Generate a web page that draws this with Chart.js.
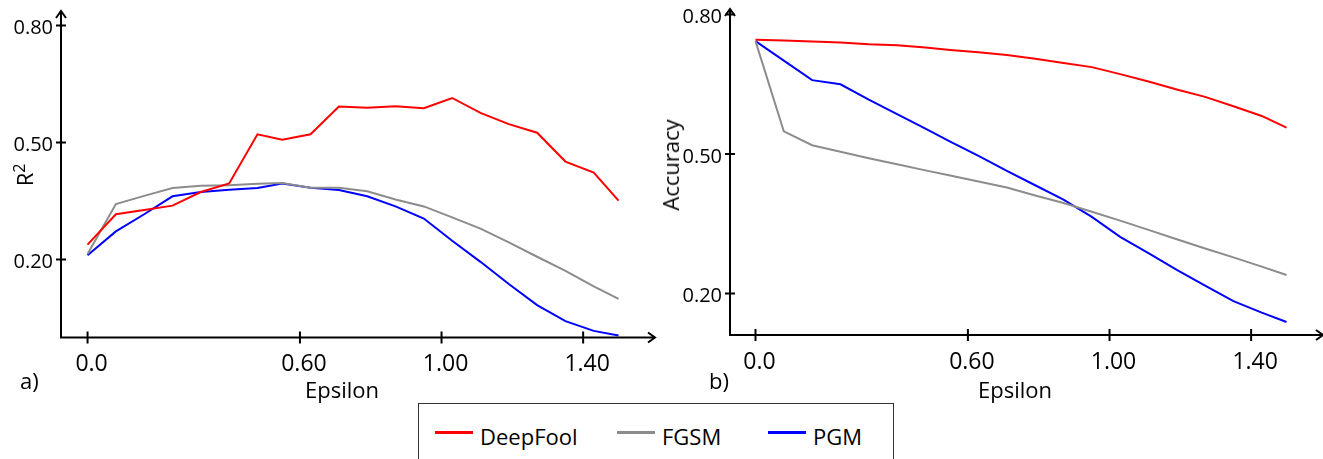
<!DOCTYPE html>
<html>
<head>
<meta charset="utf-8">
<script src="https://cdn.jsdelivr.net/npm/chart.js@4.4.0/dist/chart.umd.min.js"></script>
<style>
  body { margin: 0; background: #fff; width: 1323px; height: 459px; overflow: hidden; position: relative;
         font-family: "Open Sans", sans-serif; color: #000; }
  canvas { position: absolute; top: 0; }
  #c1 { left: 0; }
  #c2 { left: 660px; }
  .lbl { position: absolute; font-size: 22px; line-height: 22px; white-space: nowrap; }
  .mid { transform: translateX(-50%); }
  .rot { transform: translate(-50%, -50%) rotate(-90deg); }
  .rot sup { font-size: 16px; line-height: 0; }
  #legend { position: absolute; left: 418px; top: 403px; width: 474px; height: 80px; border: 1px solid #333; }
  .sw { position: absolute; width: 38px; height: 3px; }
</style>
</head>
<body>
<canvas id="c1" width="660" height="400"></canvas>
<canvas id="c2" width="663" height="400"></canvas>

<div class="lbl" style="left:20px; top:369px;">a)</div>
<div class="lbl" style="left:709px; top:369px;">b)</div>
<div class="lbl mid" style="left:342px; top:378px;">Epsilon</div>
<div class="lbl mid" style="left:1015px; top:378px;">Epsilon</div>
<div class="lbl rot" style="left:24px; top:175px;">R<sup>2</sup></div>
<div class="lbl rot" style="left:670px; top:165px;">Accuracy</div>

<div id="legend"></div>
<div id="legendItems"></div>

<script>
// epsilon values (x)
var eps = [0, 0.08, 0.16, 0.24, 0.32, 0.40, 0.48, 0.55, 0.63, 0.71,
           0.79, 0.87, 0.95, 1.03, 1.11, 1.19, 1.27, 1.35, 1.43, 1.50];

// a) R^2
var r2DeepFool = [0.238, 0.316, 0.327, 0.338, 0.373, 0.395, 0.521, 0.507, 0.521, 0.592,
                  0.589, 0.593, 0.588, 0.614, 0.576, 0.547, 0.525, 0.451, 0.423, 0.351];
var r2Fgsm     = [0.214, 0.342, 0.363, 0.383, 0.389, 0.390, 0.394, 0.396, 0.384, 0.384,
                  0.375, 0.354, 0.336, 0.308, 0.279, 0.244, 0.207, 0.171, 0.131, 0.099];
var r2Pgm      = [0.211, 0.272, 0.316, 0.362, 0.373, 0.379, 0.383, 0.395, 0.384, 0.378,
                  0.362, 0.336, 0.305, 0.248, 0.194, 0.137, 0.083, 0.042, 0.017, 0.005];

// b) Accuracy
var accDeepFool = [0.746, 0.744, 0.742, 0.740, 0.736, 0.734, 0.729, 0.724, 0.719, 0.713,
                   0.705, 0.696, 0.687, 0.672, 0.656, 0.639, 0.623, 0.603, 0.582, 0.557];
var accFgsm     = [0.743, 0.549, 0.519, 0.505, 0.491, 0.478, 0.465, 0.454, 0.441, 0.428,
                   0.411, 0.395, 0.376, 0.357, 0.337, 0.317, 0.297, 0.278, 0.258, 0.240];
var accPgm      = [0.743, 0.701, 0.659, 0.650, 0.617, 0.586, 0.555, 0.527, 0.496, 0.464,
                   0.433, 0.402, 0.365, 0.322, 0.287, 0.251, 0.217, 0.184, 0.159, 0.139];

var xTicks = [0, 0.6, 1.0, 1.4];
var xTickLabels = ["0.0", "0.60", "1.00", "1.40"];
var yTicks = [0.2, 0.5, 0.8];
var yTickLabels = ["0.20", "0.50", "0.80"];

var seriesNames = ["DeepFool", "FGSM", "PGM"];
var seriesColors = ["#ff0000", "#8c8c8c", "#0000ff"];

// axis lines with arrows and crossing tick marks
var axisArrows = {
    id: "axisArrows",
    beforeDatasetsDraw: function (chart) {
        var ctx = chart.ctx, a = chart.chartArea;
        var x = chart.scales.x, y = chart.scales.y;
        ctx.save();
        ctx.strokeStyle = "#000";
        ctx.lineWidth = 2;
        ctx.beginPath();
        ctx.moveTo(a.left, a.top);
        ctx.lineTo(a.left, a.bottom);
        ctx.lineTo(a.right, a.bottom);
        ctx.moveTo(a.left - 5, a.top + 7);
        ctx.lineTo(a.left, a.top);
        ctx.lineTo(a.left + 5, a.top + 7);
        ctx.moveTo(a.right - 7, a.bottom - 5);
        ctx.lineTo(a.right, a.bottom);
        ctx.lineTo(a.right - 7, a.bottom + 5);
        x.ticks.forEach(function (t) {
            var px = x.getPixelForValue(t.value);
            ctx.moveTo(px, a.bottom - 6);
            ctx.lineTo(px, a.bottom + 6);
        });
        y.ticks.forEach(function (t) {
            var py = y.getPixelForValue(t.value);
            ctx.moveTo(a.left - 5, py);
            ctx.lineTo(a.left + 5, py);
        });
        ctx.stroke();
        ctx.restore();
    }
};

function makeChart(id, series, o) {
    var datasets = series.map(function (vals, k) {
        return {
            label: seriesNames[k],
            data: eps.map(function (e, i) { return { x: e, y: vals[i] }; }),
            borderColor: seriesColors[k],
            borderWidth: 2,
            pointRadius: 0,
            tension: 0,
            fill: false
        };
    });
    return new Chart(document.getElementById(id), {
        type: "line",
        data: { datasets: datasets },
        plugins: [axisArrows],
        options: {
            responsive: false,
            animation: false,
            devicePixelRatio: 1,
            layout: { padding: { top: o.padTop, right: o.padRight, left: 0, bottom: 0 } },
            plugins: { legend: { display: false }, tooltip: { enabled: false } },
            scales: {
                x: {
                    type: "linear",
                    min: o.xMin,
                    max: o.xMax,
                    grid: { display: false, drawTicks: false },
                    border: { display: false },
                    afterBuildTicks: function (s) {
                        s.ticks = xTicks.map(function (v) { return { value: v }; });
                    },
                    afterFit: function (s) {
                        s.height = o.xHeight;
                        s.paddingLeft = 0;
                        s.paddingRight = 0;
                    },
                    ticks: {
                        font: { family: "Open Sans", size: 23 },
                        color: "#000",
                        padding: o.xPad,
                        labelOffset: 4,
                        maxRotation: 0,
                        autoSkip: false,
                        callback: function (v, i) { return xTickLabels[i]; }
                    }
                },
                y: {
                    type: "linear",
                    min: o.yMin,
                    max: o.yMax,
                    grid: { display: false, drawTicks: false },
                    border: { display: false },
                    afterBuildTicks: function (s) {
                        s.ticks = yTicks.map(function (v) { return { value: v }; });
                    },
                    afterFit: function (s) {
                        s.width = o.yWidth;
                        s.paddingTop = 0;
                        s.paddingBottom = 0;
                    },
                    ticks: {
                        font: { family: "Open Sans", size: 20 },
                        color: "#000",
                        padding: 8,
                        labelOffset: 3,
                        autoSkip: false,
                        callback: function (v, i) { return yTickLabels[i]; }
                    }
                }
            }
        }
    });
}

makeChart("c1", [r2DeepFool, r2Fgsm, r2Pgm], {
    xMin: -0.075, xMax: 1.603, yMin: 0, yMax: 0.837,
    yWidth: 61, xHeight: 62.5, padTop: 11, padRight: 5, xPad: 13
});
makeChart("c2", [accDeepFool, accFgsm, accPgm], {
    xMin: -0.072, xMax: 1.603, yMin: 0.111, yMax: 0.812,
    yWidth: 70, xHeight: 65, padTop: 9, padRight: 0, xPad: 13.5
});

// legend
var legendX = [435, 617, 768];
var html = "";
seriesNames.forEach(function (name, k) {
    html += '<div class="sw" style="left:' + legendX[k] + 'px; top:431px; background:' + seriesColors[k] + ';"></div>';
    html += '<div class="lbl" style="left:' + (legendX[k] + 45) + 'px; top:425px;">' + name + '</div>';
});
document.getElementById("legendItems").innerHTML = html;
</script>
</body>
</html>
